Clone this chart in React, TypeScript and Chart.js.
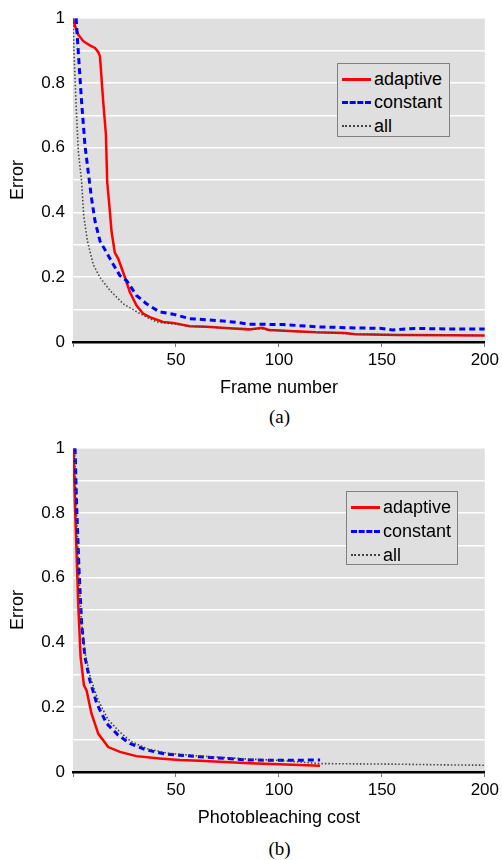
import React, { useEffect, useRef } from "react";
import { Chart, registerables } from "chart.js";

Chart.register(...registerables);

// ---- Data: panel (a) Error vs Frame number ----
const adaptiveAX = [0, 1, 2.6, 5, 8.2, 10.7, 12.3, 13.1, 14.7, 16, 16.6, 17.9, 18.7, 20.3, 22, 25.2, 27.6, 30.8, 34, 37.3, 43.7, 48.6, 56.7, 64.7, 77.6, 85.7, 92, 95, 105, 118, 132, 137, 158, 183, 200];
const adaptiveAY = [1.0, 0.975, 0.949, 0.929, 0.916, 0.908, 0.895, 0.882, 0.74, 0.64, 0.495, 0.404, 0.342, 0.276, 0.257, 0.2, 0.154, 0.113, 0.088, 0.077, 0.062, 0.059, 0.049, 0.047, 0.042, 0.039, 0.044, 0.037, 0.034, 0.03, 0.028, 0.024, 0.022, 0.021, 0.02];
const constantAX = [1.5, 2.6, 4.2, 5.8, 7.5, 9, 10.7, 13.1, 16.3, 19.5, 22.8, 26, 30.8, 35.7, 42, 48.6, 56.7, 64.7, 77.6, 85.7, 102, 118, 134, 150, 155, 166, 183, 200];
const constantAY = [1.0, 0.893, 0.74, 0.608, 0.52, 0.444, 0.373, 0.312, 0.276, 0.24, 0.205, 0.19, 0.144, 0.118, 0.093, 0.086, 0.072, 0.069, 0.062, 0.055, 0.054, 0.047, 0.044, 0.042, 0.037, 0.042, 0.04, 0.04];
const allAX = [0, 0.5, 1.45, 2.6, 4.2, 5.2, 7, 9.8, 13, 18, 24.4, 32.4, 40.5, 48.6, 56.7, 64.7, 77.6, 92, 105, 118, 137, 158, 183, 200];
const allAY = [1.0, 0.893, 0.74, 0.587, 0.495, 0.39, 0.312, 0.24, 0.2, 0.159, 0.118, 0.088, 0.062, 0.056, 0.049, 0.047, 0.042, 0.04, 0.034, 0.03, 0.025, 0.022, 0.021, 0.02];

// ---- Data: panel (b) Error vs Photobleaching cost ----
const adaptiveBX = [0.2, 1, 2.6, 3.7, 5.3, 6.6, 9, 12.3, 17.1, 22.8, 30.8, 42, 51.8, 61.5, 85.7, 100, 120];
const adaptiveBY = [1.0, 0.817, 0.509, 0.355, 0.268, 0.252, 0.18, 0.118, 0.077, 0.062, 0.049, 0.042, 0.037, 0.035, 0.027, 0.024, 0.019];
const constantBX = [1, 1.8, 3, 4.2, 5.8, 8.2, 11.5, 16.3, 21.9, 27.6, 35.7, 45.4, 51.8, 61.5, 85.7, 100, 120];
const constantBY = [1.0, 0.817, 0.612, 0.458, 0.355, 0.283, 0.212, 0.15, 0.114, 0.088, 0.068, 0.055, 0.052, 0.047, 0.037, 0.036, 0.037];
const allBX = [0.8, 1.6, 2.8, 4, 5.8, 8.5, 12, 17, 22.5, 28, 36, 46, 60, 85, 100, 120, 140, 160, 180, 200];
const allBY = [1.0, 0.82, 0.62, 0.47, 0.37, 0.29, 0.225, 0.162, 0.125, 0.095, 0.072, 0.058, 0.05, 0.04, 0.036, 0.026, 0.025, 0.024, 0.022, 0.021];

const seriesNames = ["adaptive", "constant", "all"];
const xTicks = [50, 100, 150, 200];
const yLabelTicks = [0, 0.2, 0.4, 0.6, 0.8, 1];

const RED = "#ff0000";
const BLUE = "#0000ff";
const GRAY = "#444444";
const PLOT_BG = "#dfdfdf";
const FONT = "Arial, 'Liberation Sans', sans-serif";

const zip = (xs: number[], ys: number[]) => xs.map((x, i) => ({ x, y: ys[i] }));

const bgPlugin = {
  id: "plotBg",
  beforeDraw(chart: any) {
    const { ctx, chartArea } = chart;
    if (!chartArea) return;
    ctx.save();
    ctx.fillStyle = PLOT_BG;
    ctx.fillRect(chartArea.left, chartArea.top, chartArea.right - chartArea.left, chartArea.bottom - chartArea.top);
    ctx.restore();
  },
};

function makeConfig(
  adaptive: { x: number; y: number }[],
  constant: { x: number; y: number }[],
  all: { x: number; y: number }[],
  xTitle: string,
  padTop: number
): any {
  return {
    type: "line",
    data: {
      datasets: [
        { label: seriesNames[2], data: all, borderColor: GRAY, borderWidth: 1.6, borderDash: [1.5, 2], pointRadius: 0, tension: 0 },
        { label: seriesNames[1], data: constant, borderColor: BLUE, borderWidth: 3, borderDash: [6, 4], pointRadius: 0, tension: 0 },
        { label: seriesNames[0], data: adaptive, borderColor: RED, borderWidth: 2.5, pointRadius: 0, tension: 0 },
      ],
    },
    options: {
      responsive: false,
      animation: false,
      devicePixelRatio: 1,
      layout: { padding: { top: padTop, right: 16, left: 0, bottom: 0 } },
      plugins: { legend: { display: false }, tooltip: { enabled: false } },
      scales: {
        x: {
          type: "linear",
          min: 0,
          max: 200,
          afterBuildTicks: (scale: any) => {
            scale.ticks = [0, ...xTicks].map((v) => ({ value: v }));
          },
          ticks: {
            padding: 3,
            color: "#000",
            font: { family: FONT, size: 17 },
            maxRotation: 0,
            callback: (v: number) => (v === 0 ? "" : String(v)),
          },
          grid: { drawOnChartArea: false, tickLength: 5, color: "#777", lineWidth: 1 },
          border: { display: true, color: "#000", width: 2.5 },
          title: { display: true, text: xTitle, color: "#000", font: { family: FONT, size: 18 }, padding: { top: 0, bottom: 1 } },
          afterFit: (scale: any) => {
            scale.height = 58;
          },
        },
        y: {
          type: "linear",
          min: 0,
          max: 1,
          afterBuildTicks: (scale: any) => {
            const t = [];
            for (let i = 0; i <= 10; i++) t.push({ value: i / 10 });
            scale.ticks = t;
          },
          ticks: {
            padding: 8,
            color: "#000",
            font: { family: FONT, size: 17 },
            callback: (v: number) => {
              const r = Math.round(v * 10) / 10;
              return yLabelTicks.some((t) => Math.abs(t - r) < 1e-9) ? String(r) : "";
            },
          },
          grid: {
            drawTicks: false,
            color: (c: any) => (c.tick && c.tick.value === 0 ? "rgba(0,0,0,0)" : "#ffffff"),
            lineWidth: 1.5,
          },
          border: { display: false },
          title: { display: true, text: "Error", color: "#000", font: { family: FONT, size: 18 }, padding: { top: 7, bottom: 0 } },
          afterFit: (scale: any) => {
            scale.width = 73;
          },
        },
      },
    },
    plugins: [bgPlugin],
  };
}

function LegendBox({ left, top, width, rowTops }: { left: number; top: number; width: number; rowTops: number[] }) {
  const sample = (i: number) => {
    const common: React.CSSProperties = { position: "absolute", left: 4, width: 29, height: 0 };
    if (i === 0) return <div style={{ ...common, borderTop: `3px solid ${RED}`, marginTop: -1.5 }} />;
    if (i === 1) return <div style={{ ...common, borderTop: `3px dashed ${BLUE}`, marginTop: -1.5 }} />;
    return <div style={{ ...common, borderTop: `2px dotted ${GRAY}`, marginTop: -1 }} />;
  };
  return (
    <div
      style={{
        position: "absolute",
        left,
        top,
        width,
        height: 74,
        border: "1px solid #808080",
        background: PLOT_BG,
        boxSizing: "border-box",
        fontFamily: FONT,
        fontSize: 18,
        color: "#000",
      }}
    >
      {seriesNames.map((n, i) => (
        <div key={n} style={{ position: "absolute", left: 0, top: rowTops[i], width: "100%", height: 0 }}>
          {sample(i)}
          <span style={{ position: "absolute", left: 36, top: -11, lineHeight: "22px", whiteSpace: "nowrap" }}>{n}</span>
        </div>
      ))}
    </div>
  );
}

export default function App() {
  const refA = useRef<HTMLCanvasElement>(null);
  const refB = useRef<HTMLCanvasElement>(null);

  useEffect(() => {
    const a = new Chart(
      refA.current as HTMLCanvasElement,
      makeConfig(zip(adaptiveAX, adaptiveAY), zip(constantAX, constantAY), zip(allAX, allAY), "Frame number", 15)
    );
    const b = new Chart(
      refB.current as HTMLCanvasElement,
      makeConfig(zip(adaptiveBX, adaptiveBY), zip(constantBX, constantBY), zip(allBX, allBY), "Photobleaching cost", 17)
    );
    return () => {
      a.destroy();
      b.destroy();
    };
  }, []);

  const caption: React.CSSProperties = {
    position: "absolute",
    left: 73,
    width: 413,
    textAlign: "center",
    fontFamily: "'Liberation Serif', 'Times New Roman', serif",
    fontSize: 19,
    lineHeight: "24px",
    color: "#000",
  };

  return (
    <div style={{ position: "absolute", left: 0, top: 0, width: 502, height: 860, background: "#fff", overflow: "hidden" }}>
      <canvas ref={refA} width={502} height={400} style={{ position: "absolute", left: 0, top: 0, width: 502, height: 400 }} />
      <LegendBox left={337} top={63} width={113} rowTops={[15, 38, 62]} />
      <div style={{ ...caption, top: 405 }}>(a)</div>
      <canvas ref={refB} width={502} height={400} style={{ position: "absolute", left: 0, top: 430, width: 502, height: 400 }} />
      <LegendBox left={346} top={491} width={112} rowTops={[15, 39, 63]} />
      <div style={{ ...caption, top: 837 }}>(b)</div>
    </div>
  );
}
